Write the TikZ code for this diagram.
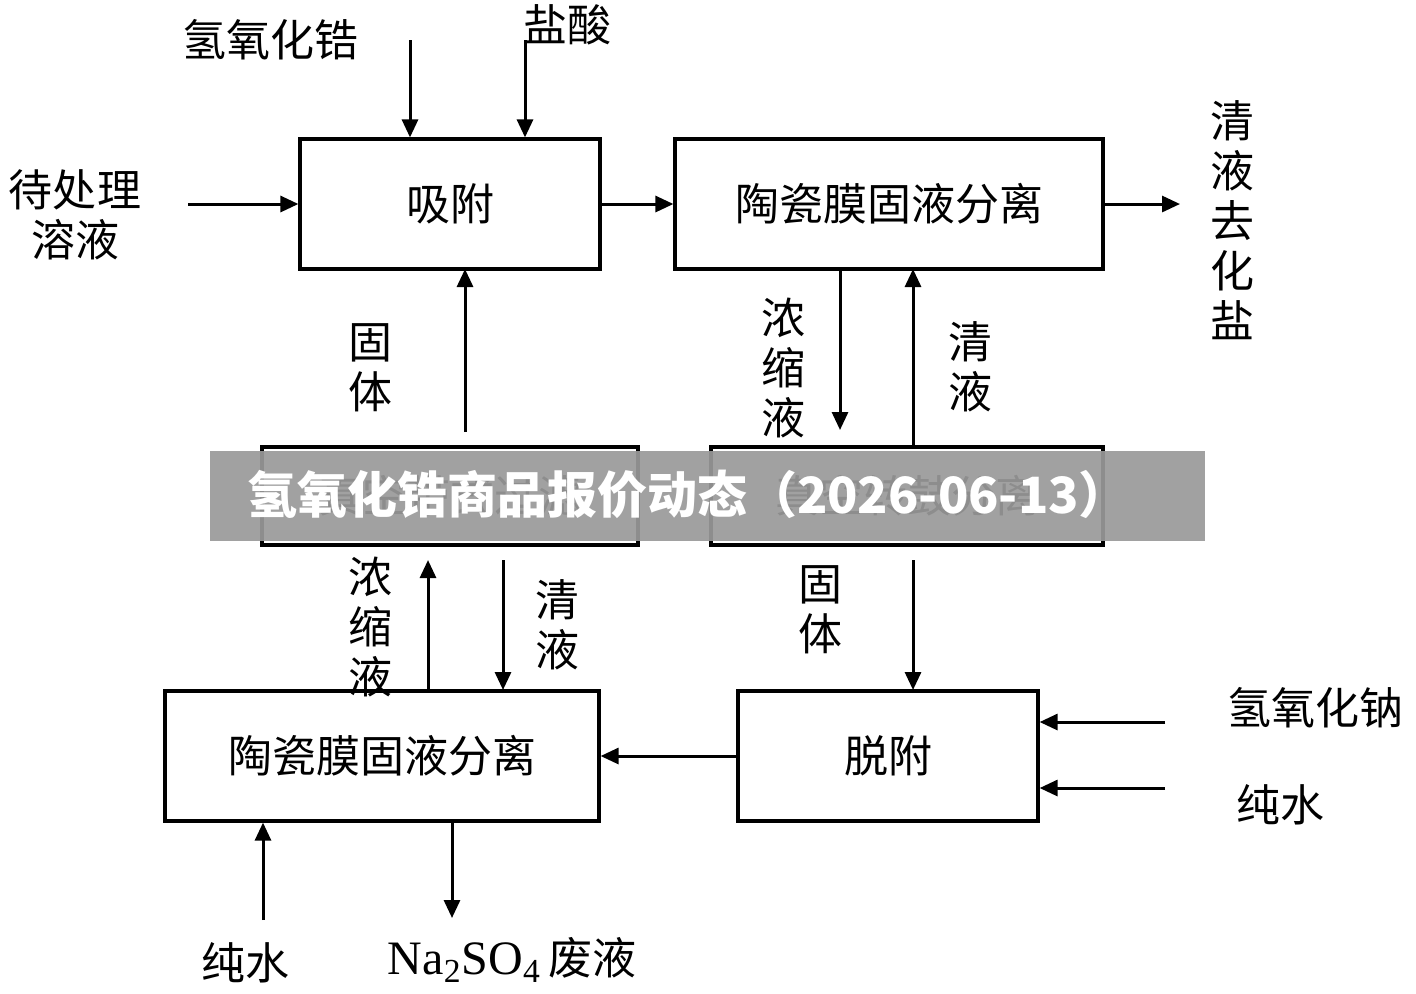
\documentclass[tikz,border=0pt]{standalone}
\usepackage{fontspec}
\setmainfont{Liberation Serif}
\newfontfamily\cjk{Noto Sans CJK SC}
\usetikzlibrary{arrows.meta,positioning}
\tikzset{
  proc/.style={draw,line width=1.6pt,minimum height=65pt,inner sep=0pt,font=\cjk\fontsize{22}{24}\selectfont},
  flow/.style={line width=1.5pt,-{Triangle[length=9pt,width=8pt]}},
  lbl/.style={font=\cjk\fontsize{22}{25}\selectfont,align=center}
}
\begin{document}
\begin{tikzpicture}[x=0.5pt,y=-0.5pt]
\useasboundingbox (0,0) rectangle (1416,993);
% boxes
\node[proc,minimum width=150pt] (ads) at (450,204) {吸附};
\node[proc,minimum width=214pt] (memA) at (889,204) {陶瓷膜固液分离};
\node[proc,minimum width=188pt,minimum height=49pt] (vacL) at (450,496) {真空带式过滤};
\node[proc,minimum width=196pt,minimum height=49pt] (vacR) at (907,496) {真空转鼓分离};
\node[proc,minimum width=217pt] (memB) at (382,756) {陶瓷膜固液分离};
\node[proc,minimum width=150pt] (des) at (888,756) {脱附};
% labels
\node[lbl] (zr) at (270,40) {氢氧化锆};
\node[lbl] (hcl) at (567,25) {盐酸};
\node[lbl] (feed) at (75,215) {待处理\\溶液};
\node[lbl] (out) at (1232,220) {清\\液\\去\\化\\盐};
\node[lbl] (c1) at (783,368) {浓\\缩\\液};
\node[lbl] (q1) at (970,367) {清\\液};
\node[lbl] (s1) at (370,368) {固\\体};
\node[lbl] (c2) at (370,627) {浓\\缩\\液};
\node[lbl] (q2) at (557,625) {清\\液};
\node[lbl] (s2) at (820,610) {固\\体};
\node[lbl] (naoh) at (1315,708) {氢氧化钠};
\node[lbl] (w1) at (1280,805) {纯水};
\node[lbl] (w2) at (245,963) {纯水};
\node[lbl] (waste) at (512,960) {{\rmfamily\fontsize{24}{26}\selectfont Na\textsubscript{2}SO\textsubscript{4}}\,废液};
% free ends
\coordinate (zrT) at (410,40);
\coordinate (hclT) at (525,40);
\coordinate (feedE) at (188,204);
\coordinate (outE) at (1180,204);
\coordinate (naohE) at (1165,722);
\coordinate (w1E) at (1165,788);
\coordinate (w2E) at (263,920);
\coordinate (wasteE) at (452,918);
% connectors
\draw[flow] (zrT) -- (zrT |- ads.north);
\draw[flow] (hclT) -- (hclT |- ads.north);
\draw[flow] (feedE) -- (ads.west);
\draw[flow] (ads.east) -- (memA.west);
\draw[flow] (memA.east) -- (outE);
\draw[flow] (840,269) -- (840,430);
\draw[flow] (913,447) -- (913,269);
\draw[flow] (465,432) -- (465,269);
\draw[flow] (428,690) -- (428,560);
\draw[flow] (503,560) -- (503,690);
\draw[flow] (913,560) -- (913,690);
\draw[flow] (des.west) -- (memB.east);
\draw[flow] (naohE) -- (naohE -| des.east);
\draw[flow] (w1E) -- (w1E -| des.east);
\draw[flow] (w2E) -- (w2E |- memB.south);
\draw[flow] (wasteE |- memB.south) -- (wasteE);
% banner
\fill[gray!80,opacity=0.92] (210,451) rectangle (1205,541);
\node[text=white,font=\cjk\bfseries\fontsize{25}{27}\selectfont] (banner) at (688,494) {氢氧化锆商品报价动态（2026-06-13）};
\end{tikzpicture}
\end{document}
